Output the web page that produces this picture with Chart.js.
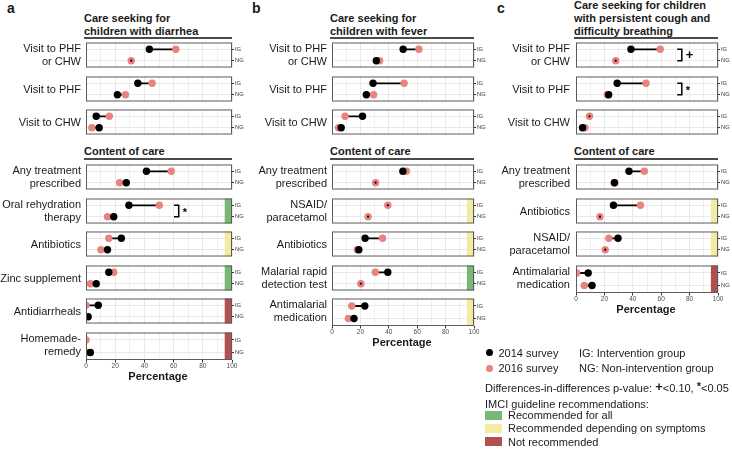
<!DOCTYPE html>
<html>
<head>
<meta charset="utf-8">
<script src="https://cdn.jsdelivr.net/npm/chart.js@4.4.1/dist/chart.umd.min.js"></script>
<style>
  body { margin: 0; background: #fff; font-family: "Liberation Sans", Arial, sans-serif; color: #1a1a1a; }
  #fig { position: relative; width: 732px; height: 457px; overflow: hidden; }
  .abs { position: absolute; white-space: pre; }
  .rowlab { font-size: 11px; line-height: 13px; text-align: right; transform: translateY(-50%); }
  .title { font-size: 11px; font-weight: bold; line-height: 13px; }
  .rule { position: absolute; height: 2px; background: #4a4a4a; }
  .letter { font-size: 14px; font-weight: bold; line-height: 14px; }
  .xlab { font-size: 11px; font-weight: bold; transform: translate(-50%, -50%); }
  .leg { font-size: 11px; line-height: 13px; transform: translateY(-50%); }
  .dot { position: absolute; width: 7px; height: 7px; border-radius: 50%; }
  .swatch { position: absolute; width: 17px; height: 9px; }
  canvas { position: absolute; }
</style>
</head>
<body>
<div id="fig"></div>
<script>
// ---- data ----
const aLabels = ["Visit to PHF\nor CHW", "Visit to PHF", "Visit to CHW", "Any treatment\nprescribed",
  "Oral rehydration\ntherapy", "Antibiotics", "Zinc supplement", "Antidiarrheals", "Homemade-\nremedy"];
const aIG2014 = [43.4, 35.5, 7, 41.4, 29.4, 24.2, 15.6, 8.4, 0];
const aIG2016 = [61.5, 45.3, 16, 58.4, 50.2, 15.6, 19, 0, 0];
const aNG2014 = [31, 21.5, 9, 27.6, 19, 14.7, 7, 1.5, 3];
const aNG2016 = [31, 27, 4, 23, 14.7, 10.2, 3, 0.5, 1];
const aGuide = ["", "", "", "", "all", "symptoms", "all", "not", "not"];
const aSig = ["", "", "", "", "*", "", "", "", ""];

const bLabels = ["Visit to PHF\nor CHW", "Visit to PHF", "Visit to CHW", "Any treatment\nprescribed",
  "NSAID/\nparacetamol", "Antibiotics", "Malarial rapid\ndetection test", "Antimalarial\nmedication"];
const bIG2014 = [50.1, 28.9, 21.5, 49.9, 39.3, 23.3, 39.3, 23.1];
const bIG2016 = [61.2, 50.8, 9.2, 52.4, 39.3, 35.6, 30.5, 13.9];
const bNG2014 = [31.2, 24.2, 6.5, 30.7, 25.4, 18.9, 20.3, 15.5];
const bNG2016 = [33.5, 29.3, 4.6, 30.7, 25.4, 17.8, 20.3, 11.5];
const bGuide = ["", "", "", "", "symptoms", "symptoms", "all", "symptoms"];
const bSig = ["", "", "", "", "", "", "", ""];

const cLabels = ["Visit to PHF\nor CHW", "Visit to PHF", "Visit to CHW", "Any treatment\nprescribed",
  "Antibiotics", "NSAID/\nparacetamol", "Antimalarial\nmedication"];
const cIG2014 = [38.7, 29, 9.5, 37.3, 26.4, 29.6, 8.6];
const cIG2016 = [59.3, 49.3, 9.5, 48.1, 45.4, 23.1, 0.5];
const cNG2014 = [28, 23, 4.6, 27, 16.9, 20.6, 11.3];
const cNG2016 = [28, 22, 6.3, 27.5, 16.9, 20.6, 5.8];
const cGuide = ["", "", "", "", "symptoms", "symptoms", "not"];
const cSig = ["+", "*", "", "", "", "", ""];

const groups = ["IG", "NG"];
const xTicks = [0, 20, 40, 60, 80, 100];
const seekCount = 3;

// ---- layout / style ----
const COLORS = {
  y2014: "#000000",
  y2016: "#e8837f",
  all: "#79b874",
  symptoms: "#f1ec9f",
  not: "#b24f4f",
  grid: "#e9e9e9",
  border: "#5c5c5c",
};
const SEEK_TOP = 40, CONTENT_TOP = 162, STEP = 33.5, BOX_H = 30;
const PAD = 2, Y_AXIS_W = 14, X_AXIS_H = 13;
const POINT_R = 3.7;

const panels = [
  { letter: "a", letterX: 7, left: 84, width: 148, labelRight: 81, sigX: 63.5,
    title: ["Care seeking for", "children with diarrhea"],
    labels: aLabels, ig14: aIG2014, ig16: aIG2016, ng14: aNG2014, ng16: aNG2016, guide: aGuide, sig: aSig },
  { letter: "b", letterX: 252, left: 330, width: 144, labelRight: 327, sigX: 70,
    title: ["Care seeking for", "children with fever"],
    labels: bLabels, ig14: bIG2014, ig16: bIG2016, ng14: bNG2014, ng16: bNG2016, guide: bGuide, sig: bSig },
  { letter: "c", letterX: 497, left: 574, width: 144, labelRight: 570, sigX: 74.5,
    title: ["Care seeking for children", "with persistent cough and", "difficulty breathing"],
    labels: cLabels, ig14: cIG2014, ig16: cIG2016, ng14: cNG2014, ng16: cNG2016, guide: cGuide, sig: cSig },
];

const fig = document.getElementById("fig");
Chart.defaults.font.family = '"Liberation Sans", Arial, sans-serif';

function addText(cls, text, left, top, extra = "") {
  const el = document.createElement("div");
  el.className = "abs " + cls;
  el.textContent = text;
  el.style.cssText += `left:${left}px;top:${top}px;${extra}`;
  fig.appendChild(el);
  return el;
}

function facetTop(i) {
  return Math.round(i < seekCount ? SEEK_TOP + i * STEP : CONTENT_TOP + (i - seekCount) * STEP);
}

const facetDecor = {
  id: "facetDecor",
  beforeDatasetsDraw(chart, args, opts) {
    const { ctx, chartArea: a, scales: { x } } = chart;
    if (!opts.guide) return;
    const x0 = x.getPixelForValue(95);
    ctx.save();
    ctx.fillStyle = COLORS[opts.guide];
    ctx.fillRect(x0, a.top, a.right - x0, a.bottom - a.top);
    ctx.restore();
  },
  afterDatasetsDraw(chart, args, opts) {
    const { ctx, chartArea: a, scales: { x, y } } = chart;
    ctx.save();
    if (opts.sig) {
      const xr = x.getPixelForValue(opts.sigX);
      const xl = x.getPixelForValue(opts.sigX - 3.2);
      const y1 = y.getPixelForValue(1), y2 = y.getPixelForValue(2);
      ctx.strokeStyle = "#000";
      ctx.lineWidth = 1.5;
      ctx.beginPath();
      ctx.moveTo(xl, y1); ctx.lineTo(xr, y1); ctx.lineTo(xr, y2); ctx.lineTo(xl, y2);
      ctx.stroke();
      ctx.fillStyle = "#000";
      ctx.textBaseline = "middle";
      ctx.font = opts.sig === "+" ? 'bold 13px "Liberation Sans", Arial' : 'bold 11px "Liberation Sans", Arial';
      ctx.fillText(opts.sig, xr + 4, (y1 + y2) / 2 + (opts.sig === "+" ? 0.5 : 1.5));
    }
    ctx.strokeStyle = COLORS.border;
    ctx.lineWidth = 1;
    ctx.strokeRect(a.left + 0.5, a.top + 0.5, a.right - a.left - 1, a.bottom - a.top - 1);
    ctx.restore();
  },
};

function addFacet(p, i) {
  const last = i === p.labels.length - 1;
  const top = facetTop(i);
  const cv = document.createElement("canvas");
  cv.width = p.width + PAD + Y_AXIS_W;
  cv.height = BOX_H + PAD + (last ? X_AXIS_H : PAD);
  cv.style.left = (p.left - PAD) + "px";
  cv.style.top = (top - PAD) + "px";
  fig.appendChild(cv);

  const v14 = [p.ig14[i], p.ng14[i]];
  const v16 = [p.ig16[i], p.ng16[i]];

  new Chart(cv, {
    type: "scatter",
    data: {
      datasets: [
        {
          label: "2014 survey",
          data: v14.map((v, k) => ({ x: v, y: k + 1 })),
          pointBackgroundColor: COLORS.y2014,
          pointBorderWidth: 0,
          pointRadius: (c) => (c.dataIndex !== undefined && Math.abs(v14[c.dataIndex] - v16[c.dataIndex]) < 0.01 ? 1.1 : POINT_R),
          clip: 0,
        },
        {
          label: "2016 survey",
          data: v16.map((v, k) => ({ x: v, y: k + 1 })),
          pointBackgroundColor: COLORS.y2016,
          pointBorderWidth: 0,
          pointRadius: POINT_R,
          clip: 0,
        },
        ...groups.map((g, k) => ({
          label: g,
          data: [{ x: v14[k], y: k + 1 }, { x: v16[k], y: k + 1 }],
          showLine: true,
          borderColor: "#000",
          borderWidth: 1.8,
          pointRadius: 0,
          clip: 0,
        })),
      ],
    },
    options: {
      responsive: false,
      animation: false,
      events: [],
      layout: { padding: { left: PAD, top: PAD, right: 0, bottom: 0 } },
      scales: {
        x: {
          type: "linear",
          min: 0,
          max: 100,
          afterBuildTicks: (s) => { s.ticks = [0, 10, 20, 30, 40, 50, 60, 70, 80, 90, 100].map((v) => ({ value: v })); },
          afterFit: (s) => { s.height = last ? X_AXIS_H : PAD; },
          ticks: {
            display: last,
            autoSkip: false,
            maxRotation: 0,
            padding: 0,
            font: { size: 6.5 },
            color: "#4d4d4d",
            callback: (v) => (xTicks.includes(v) ? String(v) : ""),
          },
          grid: {
            color: COLORS.grid,
            lineWidth: (c) => (c.tick && xTicks.includes(c.tick.value) ? 1 : 0.7),
            drawTicks: last,
            tickLength: 2.5,
            tickWidth: 1,
            tickColor: (c) => (c.tick && xTicks.includes(c.tick.value) ? "#333" : "rgba(0,0,0,0)"),
          },
          border: { display: false },
        },
        y: {
          type: "linear",
          position: "right",
          reverse: true,
          min: 0.4,
          max: 2.6,
          afterBuildTicks: (s) => { s.ticks = [{ value: 1 }, { value: 2 }]; },
          afterFit: (s) => { s.width = Y_AXIS_W; },
          ticks: {
            padding: 1,
            font: { size: 5.8 },
            color: "#333",
            callback: (v) => groups[v - 1] || "",
          },
          grid: { color: COLORS.grid, tickLength: 2, tickColor: "#333", tickWidth: 1 },
          border: { display: false },
        },
      },
      plugins: {
        legend: { display: false },
        tooltip: { enabled: false },
        facetDecor: { guide: p.guide[i], sig: p.sig[i], sigX: p.sigX },
      },
    },
    plugins: [facetDecor],
  });

  addText("rowlab", p.labels[i], 0, top + BOX_H / 2, `width:${p.labelRight}px;`);
  return top + BOX_H;
}

panels.forEach((p) => {
  addText("letter", p.letter, p.letterX, 1);
  addText("title", p.title.join("\n"), p.left, 37.5 - 13 * p.title.length);
  const r1 = document.createElement("div");
  r1.className = "rule";
  r1.style.cssText = `left:${p.left}px;top:37px;width:${p.width}px;`;
  fig.appendChild(r1);

  addText("title", "Content of care", p.left, 144.5);
  const r2 = document.createElement("div");
  r2.className = "rule";
  r2.style.cssText = `left:${p.left}px;top:157.5px;width:${p.width}px;`;
  fig.appendChild(r2);

  let bottom = 0;
  p.labels.forEach((_, i) => { bottom = addFacet(p, i); });
  addText("xlab", "Percentage", p.left + p.width / 2, bottom + 15.5);
});

// ---- legend ----
function addBox(cls, left, top, color) {
  const el = document.createElement("div");
  el.className = cls;
  el.style.cssText = `left:${left}px;top:${top}px;background:${color};`;
  fig.appendChild(el);
}
addBox("dot", 485.5, 349.2, COLORS.y2014);
addBox("dot", 485.5, 364.8, COLORS.y2016);
addText("leg", "2014 survey", 498.5, 352.7);
addText("leg", "2016 survey", 498.5, 368.3);
addText("leg", "IG: Intervention group", 579, 352.5);
addText("leg", "NG: Non-intervention group", 579, 368);
const diff = addText("leg", "", 485, 387.7);
diff.innerHTML = 'Differences-in-differences p-value: <b style="font-size:13px;position:relative;top:-1px">+</b>&lt;0.10, <b style="position:relative;top:-2px">*</b>&lt;0.05';
addText("leg", "IMCI guideline recommendations:", 485, 404.3);
addBox("swatch", 485, 410.5, COLORS.all);
addBox("swatch", 485, 423.8, COLORS.symptoms);
addBox("swatch", 485, 437.2, COLORS.not);
addText("leg", "Recommended for all", 508, 415);
addText("leg", "Recommended depending on symptoms", 508, 428.3);
addText("leg", "Not recommended", 508, 441.7);
</script>
</body>
</html>
